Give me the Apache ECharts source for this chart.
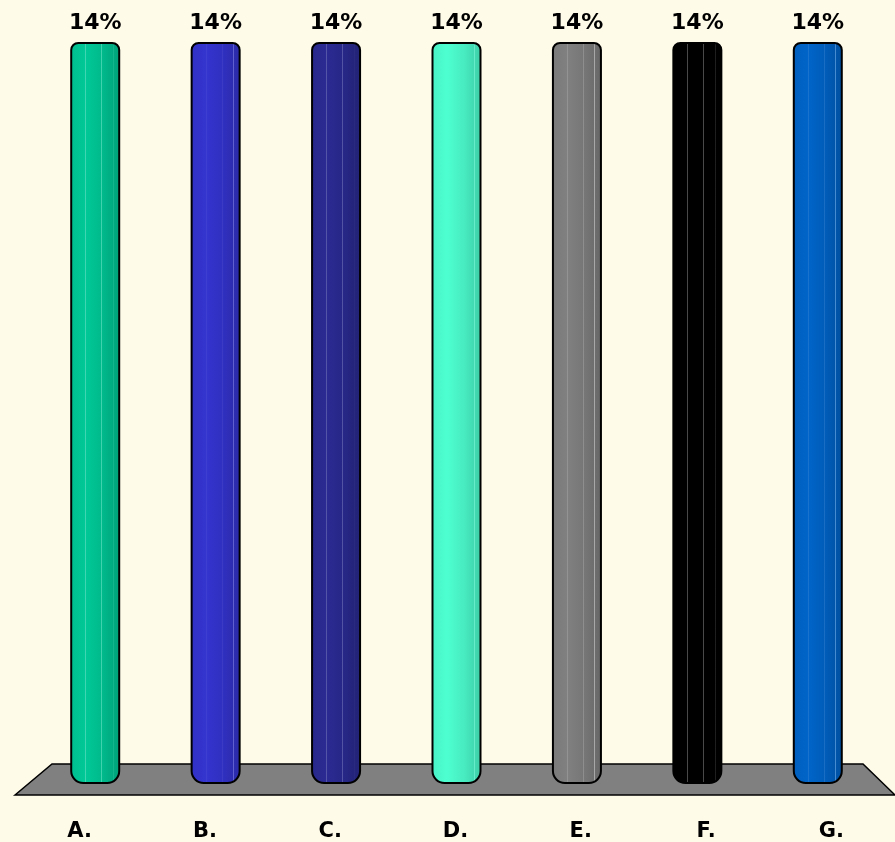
<!DOCTYPE html>
<html>
<head>
<meta charset="utf-8">
<script src="https://cdn.jsdelivr.net/npm/echarts@6/dist/echarts.min.js"></script>
<style>
    html, body { margin: 0; padding: 0; background: #fffbe9; }
    #chart { width: 895px; height: 842px; }
</style>
</head>
<body>
<div id="chart"></div>
<script>
const categories = ['A.', 'B.', 'C.', 'D.', 'E.', 'F.', 'G.'];
const values = [14, 14, 14, 14, 14, 14, 14];
const barColors = ['#00c896', '#3434cf', '#2a2a92', '#4dffd0', '#808080', '#000000', '#0064c8'];

// darken a hex colour a bit, for the right side of the cylinder
function shade(hex, f) {
    const n = parseInt(hex.slice(1), 16);
    const r = Math.round(((n >> 16) & 255) * f);
    const g = Math.round(((n >> 8) & 255) * f);
    const b = Math.round((n & 255) * f);
    return 'rgb(' + r + ',' + g + ',' + b + ')';
}
function lighten(hex, a) {
    const n = parseInt(hex.slice(1), 16);
    const c = [(n >> 16) & 255, (n >> 8) & 255, n & 255].map(v => Math.round(v + (255 - v) * a));
    return 'rgb(' + c.join(',') + ')';
}

// cylinder fill: flat faces with thin light seams
function cylinder(hex) {
    const base = hex;
    const seam = hex === '#000000' ? '#555555' : lighten(hex, 0.35);
    const stops = [
        { offset: 0, color: shade(base, 0.95) },
        { offset: 0.3, color: base },
        { offset: 0.3, color: seam },
        { offset: 0.32, color: base },
        { offset: 0.62, color: shade(base, 0.93) },
        { offset: 0.62, color: seam },
        { offset: 0.64, color: shade(base, 0.93) },
        { offset: 0.85, color: shade(base, 0.85) },
        { offset: 0.85, color: seam },
        { offset: 0.87, color: shade(base, 0.85) },
        { offset: 1, color: shade(base, 0.8) }
    ];
    return new echarts.graphic.LinearGradient(0, 0, 1, 0, stops);
}

const chart = echarts.init(document.getElementById('chart'));

const option = {
    backgroundColor: '#fffbe9',
    animation: false,
    graphic: [{
        type: 'polygon',
        z: 0,
        shape: { points: [[15, 795], [52, 764], [863, 764], [895, 795]] },
        style: { fill: '#808080', stroke: '#000', lineWidth: 1.5 }
    }],
    grid: [
        { left: 35, width: 843, top: 42, bottom: 58 },
        { left: 17, width: 877, top: 800, bottom: 0 }
    ],
    xAxis: [{
        type: 'category',
        gridIndex: 0,
        data: categories,
        axisLine: { show: false },
        axisTick: { show: false },
        axisLabel: { show: false }
    }, {
        type: 'category',
        gridIndex: 1,
        data: categories,
        position: 'top',
        axisLine: { show: false },
        axisTick: { show: false },
        axisLabel: {
            margin: -42,
            fontFamily: 'DejaVu Sans',
            fontWeight: 'bold',
            fontSize: 21,
            color: '#000'
        }
    }],
    yAxis: [{
        type: 'value',
        gridIndex: 0,
        min: 0,
        max: 14,
        show: false
    }, {
        type: 'value',
        gridIndex: 1,
        show: false
    }],
    series: [{
        type: 'bar',
        xAxisIndex: 0,
        yAxisIndex: 0,
        z: 3,
        barWidth: 50,
        data: values.map((v, i) => ({
            value: v,
            itemStyle: {
                color: cylinder(barColors[i]),
                borderColor: '#000',
                borderWidth: 2,
                borderRadius: [7, 7, 12, 12]
            }
        })),
        label: {
            show: true,
            position: 'top',
            distance: 8,
            formatter: '{c}%',
            fontFamily: 'DejaVu Sans',
            fontWeight: 'bold',
            fontSize: 22,
            color: '#000'
        }
    }, {
        type: 'bar',
        xAxisIndex: 1,
        yAxisIndex: 1,
        data: [],
        silent: true
    }]
};

chart.setOption(option);
</script>
</body>
</html>
